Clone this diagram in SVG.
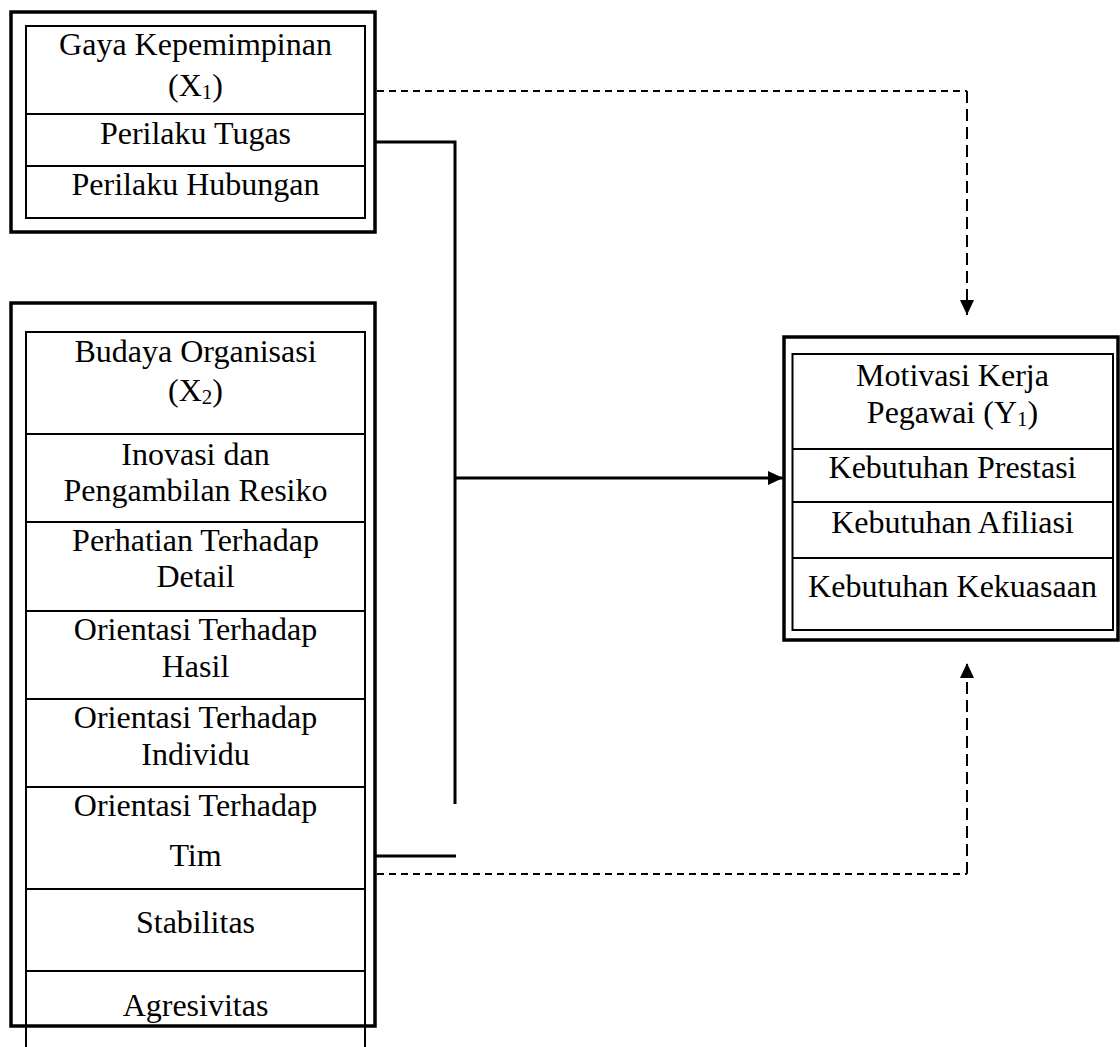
<svg xmlns="http://www.w3.org/2000/svg" width="1120" height="1047" viewBox="0 0 1120 1047">
<style>
.outer{fill:none;stroke:#000;stroke-width:3.5}
.inner{fill:none;stroke:#000;stroke-width:2}
.div{stroke:#000;stroke-width:2}
text{font-family:"Liberation Serif","Times New Roman",serif;font-size:32px;fill:#000;text-anchor:middle}
.sub{font-size:21px}
.solid{fill:none;stroke:#000;stroke-width:3}
.dash-h{fill:none;stroke:#000;stroke-width:2;stroke-dasharray:7 5}
.dash-v{fill:none;stroke:#000;stroke-width:2;stroke-dasharray:12 6}
</style>
<defs>
<marker id="arr" viewBox="0 0 15 14" refX="15" refY="7" markerWidth="15" markerHeight="14" markerUnits="userSpaceOnUse" orient="auto">
<path d="M0,0 L15,7 L0,14 z" fill="#000"/>
</marker>
</defs>
<rect width="1120" height="1047" fill="#fff"/>

<g id="gaya-kepemimpinan">
<rect class="outer" x="11" y="12" width="364" height="220"/>
<rect class="inner" x="26" y="26" width="339" height="192"/>
<line class="div" x1="26" y1="114" x2="365" y2="114"/>
<line class="div" x1="26" y1="166" x2="365" y2="166"/>
<text x="195.5" y="55">Gaya Kepemimpinan</text>
<text x="195.5" y="96"><tspan>(X</tspan><tspan class="sub" dy="3">1</tspan><tspan dy="-3">)</tspan></text>
<text x="195.5" y="144">Perilaku Tugas</text>
<text x="195.5" y="195">Perilaku Hubungan</text>
</g>

<g id="budaya-organisasi">
<rect class="outer" x="11" y="303" width="364" height="723"/>
<path class="inner" d="M26,1060 V332 H365 V1060"/>
<line class="div" x1="26" y1="434" x2="365" y2="434"/>
<line class="div" x1="26" y1="522" x2="365" y2="522"/>
<line class="div" x1="26" y1="611" x2="365" y2="611"/>
<line class="div" x1="26" y1="699" x2="365" y2="699"/>
<line class="div" x1="26" y1="787" x2="365" y2="787"/>
<line class="div" x1="26" y1="889" x2="365" y2="889"/>
<line class="div" x1="26" y1="971" x2="365" y2="971"/>
<text x="195.5" y="362">Budaya Organisasi</text>
<text x="195.5" y="401"><tspan>(X</tspan><tspan class="sub" dy="3">2</tspan><tspan dy="-3">)</tspan></text>
<text x="195.5" y="465">Inovasi dan</text>
<text x="195.5" y="501">Pengambilan Resiko</text>
<text x="195.5" y="551">Perhatian Terhadap</text>
<text x="195.5" y="587">Detail</text>
<text x="195.5" y="640">Orientasi Terhadap</text>
<text x="195.5" y="677">Hasil</text>
<text x="195.5" y="728">Orientasi Terhadap</text>
<text x="195.5" y="765">Individu</text>
<text x="195.5" y="816">Orientasi Terhadap</text>
<text x="195.5" y="866">Tim</text>
<text x="195.5" y="933">Stabilitas</text>
<text x="195.5" y="1016">Agresivitas</text>
</g>

<g id="motivasi-kerja">
<rect class="outer" x="784" y="337" width="334" height="303"/>
<rect class="inner" x="792.5" y="354" width="320.5" height="276"/>
<line class="div" x1="792.5" y1="449" x2="1113" y2="449"/>
<line class="div" x1="792.5" y1="502" x2="1113" y2="502"/>
<line class="div" x1="792.5" y1="558" x2="1113" y2="558"/>
<text x="952.5" y="386">Motivasi Kerja</text>
<text x="952.5" y="423"><tspan>Pegawai (Y</tspan><tspan class="sub" dy="3">1</tspan><tspan dy="-3">)</tspan></text>
<text x="952.5" y="478">Kebutuhan Prestasi</text>
<text x="952.5" y="533">Kebutuhan Afiliasi</text>
<text x="952.5" y="597">Kebutuhan Kekuasaan</text>
</g>

<g id="connectors">
<polyline class="solid" points="375,142 455,142 455,804"/>
<line class="solid" x1="455" y1="478" x2="783" y2="478" marker-end="url(#arr)"/>
<line class="solid" x1="375" y1="856" x2="456" y2="856"/>
<polyline class="dash-h" points="377,91 967,91"/>
<line class="dash-v" x1="967" y1="91" x2="967" y2="315" marker-end="url(#arr)"/>
<polyline class="dash-h" points="377,874 967,874"/>
<line class="dash-v" x1="967" y1="874" x2="967" y2="663" marker-end="url(#arr)"/>
</g>
</svg>
